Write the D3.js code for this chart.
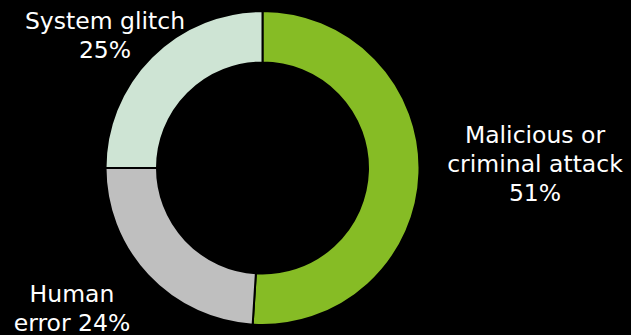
<!DOCTYPE html>
<html>
<head>
<meta charset="utf-8">
<script src="https://cdn.jsdelivr.net/npm/d3@7"></script>
<style>
  html, body { margin: 0; padding: 0; background: #000; }
  svg { display: block; }
</style>
</head>
<body>
<div id="chart"></div>
<script>
// data
const categories = ['Malicious or criminal attack', 'Human error', 'System glitch'];
const shares = [51, 24, 25];
const labelLines = [
  ['Malicious or', 'criminal attack', '51%'],
  ['Human', 'error 24%'],
  ['System glitch', '25%']
];
const colors = ['#86bc25', '#bfbfbf', '#cee4d4'];

const width = 631, height = 335;
const cx = 262.5, cy = 168;
const outerR = 157, innerR = 105.5;

// label anchor points (centre of first line)
const labelPos = [
  { x: 535, y: 143 },
  { x: 72, y: 302 },
  { x: 105, y: 29 }
];
const lineH = 29;

const svg = d3.select('#chart').append('svg')
  .attr('width', width)
  .attr('height', height);

const g = svg.append('g')
  .attr('transform', 'translate(' + cx + ',' + cy + ')');

const pie = d3.pie().sort(null).value(d => d);
const arc = d3.arc().innerRadius(innerR).outerRadius(outerR);

const color = d3.scaleOrdinal().domain(categories).range(colors);

g.selectAll('path')
  .data(pie(shares))
  .enter().append('path')
  .attr('d', arc)
  .attr('fill', (d, i) => color(categories[i]))
  .attr('stroke', '#000')
  .attr('stroke-width', 2);

// labels
labelLines.forEach((lines, i) => {
  const t = svg.append('text')
    .attr('text-anchor', 'middle')
    .attr('fill', '#fff')
    .style('font-family', '"DejaVu Sans", Verdana, sans-serif')
    .style('font-size', '23.5px');
  lines.forEach((l, j) => {
    t.append('tspan')
      .attr('x', labelPos[i].x)
      .attr('y', labelPos[i].y + j * lineH)
      .text(l);
  });
});
</script>
</body>
</html>
